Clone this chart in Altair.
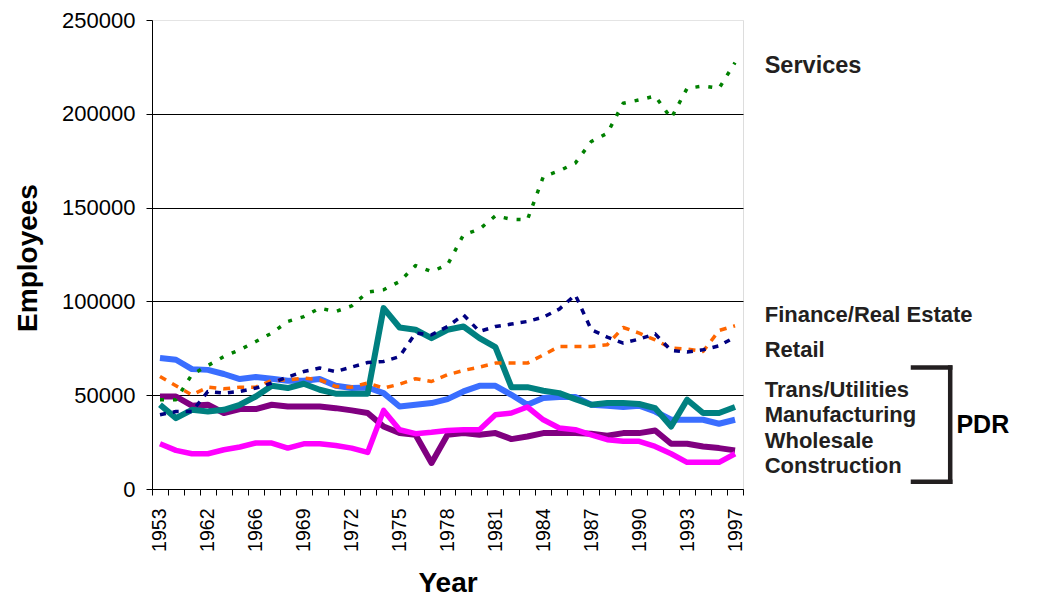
import altair as alt
import pandas as pd

# Category axis (37 categories, every third labelled)
years = ["1953", "1956", "1959", "1962", "1963", "1964", "1966", "1967", "1968", "1969",
         "1970", "1971", "1972", "1973", "1974", "1975", "1976", "1977", "1978", "1979",
         "1980", "1981", "1982", "1983", "1984", "1985", "1986", "1987", "1988", "1989",
         "1990", "1991", "1992", "1993", "1994", "1995", "1997"]
label_years = ["1953", "1962", "1966", "1969", "1972", "1975", "1978", "1981", "1984",
               "1987", "1990", "1993", "1997"]

services = [47600, 47600, 61000, 65800, 70600, 74200, 78600, 83100, 89300, 91900,
            96400, 94600, 97600, 104900, 106200, 110600, 119100, 115900, 119500, 135500,
            138500, 145600, 143800, 143500, 166500, 169600, 173700, 185200, 189600, 205600,
            207400, 209500, 197600, 213600, 214800, 213600, 227300]
finance = [39600, 41300, 41300, 52000, 51100, 52000, 53800, 56500, 59700, 62600,
           64500, 62600, 65000, 67400, 68000, 70600, 83100, 82200, 86600, 92800,
           84000, 86600, 87900, 89300, 91600, 95900, 103500, 84900, 81000, 77800,
           79900, 82700, 73800, 73000, 74200, 76300, 81000]
retail = [60000, 55000, 50200, 54300, 53400, 54300, 54300, 57900, 58200, 59100,
          58200, 54700, 54300, 56500, 53800, 55900, 58800, 57300, 60900, 63200,
          65000, 67100, 67100, 67100, 71500, 76000, 76000, 76000, 76900, 86100,
          83100, 79500, 75100, 74600, 73300, 84500, 87000]
trans = [44900, 37800, 42200, 41300, 42200, 44900, 49300, 55000, 53800, 56100,
         52900, 50800, 50800, 50800, 96400, 86100, 84900, 80400, 84900, 86600,
         80400, 75600, 54300, 54300, 52400, 51100, 47900, 44900, 45800, 45800,
         45300, 43100, 33300, 47600, 40500, 40500, 43700]
manufacturing = [69800, 68900, 63900, 63500, 61300, 58600, 59700, 58800, 57700, 57700,
                 58600, 55000, 53800, 54100, 51100, 44000, 44900, 45800, 47900, 52000,
                 55000, 55000, 50200, 44900, 48500, 49000, 49000, 44900, 44400, 43700,
                 44400, 41300, 36900, 36900, 36900, 34800, 36900]
wholesale = [49300, 49300, 44400, 44900, 40500, 42600, 42600, 44900, 44000, 44000,
             44000, 43100, 41900, 40500, 33300, 29800, 28900, 13900, 28900, 29800,
             28900, 29800, 26600, 28000, 29800, 29800, 29800, 29500, 28400, 29800,
             29800, 31200, 24100, 24100, 22700, 21800, 20600]
construction = [24100, 20600, 18800, 18800, 20900, 22400, 24500, 24500, 21800, 24100,
                24100, 23200, 21800, 19500, 41900, 31600, 29500, 30200, 31200, 31600,
                31600, 39600, 40500, 43700, 36900, 32500, 31600, 28900, 26300, 25400,
                25400, 22700, 18800, 14200, 14200, 14200, 18800]

# series: (values, colour, width, dash) -- solid ones drawn first
series = [
    (manufacturing, "#3A6EFF", 6, None),
    (wholesale, "#800080", 6, None),
    (construction, "#FF00FF", 5.5, None),
    (trans, "#008080", 6, None),
    (retail, "#FF6600", 3.5, [7, 7]),
    (finance, "#000080", 3.5, [6, 7]),
    (services, "#008000", 3.5, [4, 9]),
]

labels = ["Services", "Finance/Real Estate", "Retail", "Trans/Utilities",
          "Manufacturing", "Wholesale", "Construction"]
label_x = [612.7, 612.7, 612.7, 612.7, 612.7, 612.7, 612.7]
label_y = [53.3, 301.7, 336.7, 376.7, 401.7, 427.7, 453.3]
label_size = [23.5, 22, 22, 22, 22, 22, 22]

FONT = "Liberation Sans"

x_enc = alt.X(
    "year:O", sort=years,
    scale=alt.Scale(type="band", paddingInner=0, paddingOuter=0),
    axis=alt.Axis(
        title="Year", labelAngle=-90, tickBand="extent", grid=False,
        labelExpr="indexof(" + str(label_years) + ", datum.label) >= 0 ? datum.label : ''",
        labelOverlap=False, labelFontSize=19.5, labelFont=FONT, labelColor="#000",
        labelPadding=13, tickSize=6, tickColor="#000", domainColor="#000",
        titleFont=FONT, titleFontSize=28, titleFontWeight="bold", titleColor="#000",
        titleBaseline="alphabetic", titleY=102, titleX=295.5,
    ),
)
y_enc = alt.Y(
    "value:Q",
    scale=alt.Scale(domain=[0, 250000], nice=False),
    axis=alt.Axis(
        title="Employees", values=[0, 50000, 100000, 150000, 200000, 250000], format="d",
        labelFontSize=22, labelFont=FONT, labelColor="#000", labelPadding=11,
        tickSize=6, tickColor="#000", domainColor="#000",
        gridColor={"condition": {"test": "datum.value >= 250000", "value": "#e4e4e4"},
                   "value": "#000000"},
        gridWidth=1,
        titleFont=FONT, titleFontSize=28, titleFontWeight="bold", titleColor="#000",
        titleBaseline="alphabetic", titleAngle=-90, titleX=-115.6, titleY=237.5,
        titleAlign="center",
    ),
)

layers = []
for vals, col, w, dash in series:
    df = pd.DataFrame({"year": years, "value": vals})
    kw = dict(color=col, strokeWidth=w, strokeJoin="round")
    if dash is not None:
        kw["strokeDash"] = dash
    layers.append(alt.Chart(df).mark_line(**kw).encode(x=x_enc, y=y_enc))

for lab, lx, ly, fs in zip(labels, label_x, label_y, label_size):
    layers.append(
        alt.Chart(pd.DataFrame({"t": [lab]})).mark_text(
            align="left", baseline="alphabetic", font=FONT, fontSize=fs,
            fontWeight="bold", color="#231F20"
        ).encode(text="t:N", x=alt.value(lx), y=alt.value(ly))
    )

layers.append(
    alt.Chart(pd.DataFrame({"t": ["PDR"]})).mark_text(
        align="left", baseline="alphabetic", font=FONT, fontSize=25,
        fontWeight="bold", color="#000"
    ).encode(text="t:N", x=alt.value(804.4), y=alt.value(412.7))
)

one = pd.DataFrame({"k": [0]})
bracket_style = dict(color="#231F20", strokeWidth=4.5, strokeCap="square")
layers.append(alt.Chart(one).mark_rule(**bracket_style).encode(
    x=alt.value(761), x2=alt.value(798.2), y=alt.value(347.5)))
layers.append(alt.Chart(one).mark_rule(**bracket_style).encode(
    x=alt.value(761), x2=alt.value(798.2), y=alt.value(461.7)))
layers.append(alt.Chart(one).mark_rule(**bracket_style).encode(
    x=alt.value(798.2), y=alt.value(347.5), y2=alt.value(461.7)))

chart = alt.layer(*layers).properties(
    width=591, height=469,
    autosize=alt.AutoSizeParams(type="none"),
    padding={"left": 144, "top": 12, "right": 287, "bottom": 107},
).configure_view(stroke=None).configure(background="white")

chart.save("out.html", embed_options={"renderer": "svg", "actions": False})
